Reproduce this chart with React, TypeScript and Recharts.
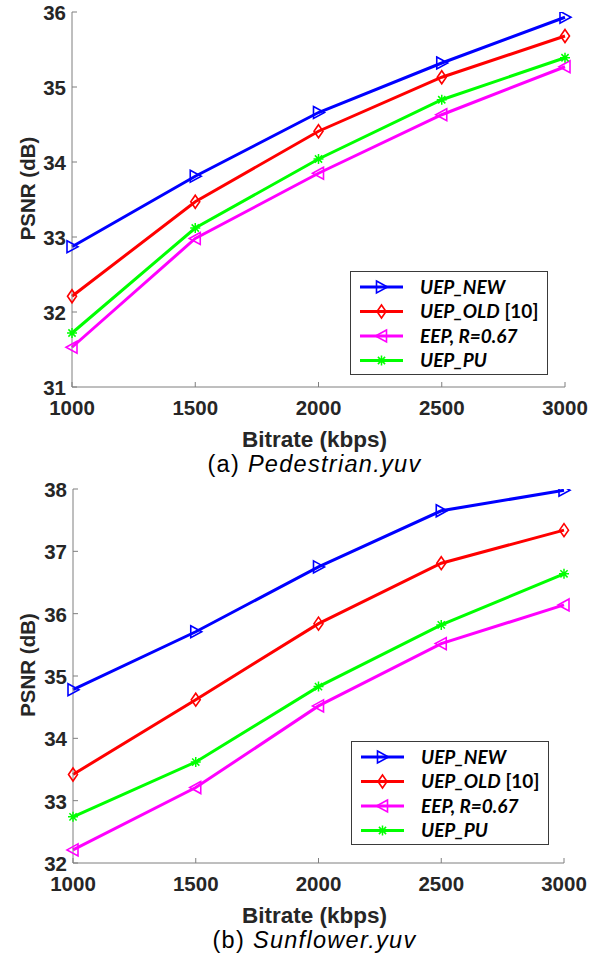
import React from 'react';
import { LineChart, Line, XAxis, YAxis, Legend } from 'recharts';

// ---------- data ----------
const bitrates = [1000, 1500, 2000, 2500, 3000];
const xTicks = [1000, 1500, 2000, 2500, 3000];

const pedNew = [32.87, 33.81, 34.66, 35.32, 35.93];
const pedOld = [32.21, 33.47, 34.41, 35.13, 35.68];
const pedEep = [31.53, 32.98, 33.85, 34.63, 35.27];
const pedPu = [31.72, 33.12, 34.04, 34.83, 35.39];
const pedYTicks = [31, 32, 33, 34, 35, 36];

const sunNew = [34.78, 35.71, 36.75, 37.65, 37.98];
const sunOld = [33.42, 34.62, 35.84, 36.81, 37.34];
const sunEep = [32.21, 33.21, 34.52, 35.52, 36.14];
const sunPu = [32.74, 33.62, 34.83, 35.82, 36.64];
const sunYTicks = [32, 33, 34, 35, 36, 37, 38];

const seriesKeys = ['uepNew', 'uepOld', 'eep', 'uepPu'];
const seriesNames = ['UEP_NEW', 'UEP_OLD', 'EEP, R=0.67', 'UEP_PU'];
const seriesColors = ['#0000ff', '#ff0000', '#ff00ff', '#00ff00'];
const seriesShapes = ['right', 'diamond', 'left', 'star'];

const captionA = ['(a) ', 'Pedestrian.yuv'];
const captionB = ['(b) ', 'Sunflower.yuv'];

const buildRows = (a: number[], b: number[], c: number[], d: number[]) =>
  bitrates.map((x, i) => ({ x, uepNew: a[i], uepOld: b[i], eep: c[i], uepPu: d[i] }));

const pedRows = buildRows(pedNew, pedOld, pedEep, pedPu);
const sunRows = buildRows(sunNew, sunOld, sunEep, sunPu);

// ---------- styles ----------
const FONT = '"Liberation Sans", Arial, Helvetica, sans-serif';
const AXIS = '#7f7f7f';
const TEXT = '#262626';
const TICK_LEN = 5;

function Marker({ shape, cx, cy, color }: any) {
  const sw = 1.6;
  if (shape === 'right')
    return <polygon points={`${cx - 5},${cy - 6} ${cx + 6},${cy} ${cx - 5},${cy + 6}`} fill="none" stroke={color} strokeWidth={sw} />;
  if (shape === 'left')
    return <polygon points={`${cx + 5},${cy - 6} ${cx - 6},${cy} ${cx + 5},${cy + 6}`} fill="none" stroke={color} strokeWidth={sw} />;
  if (shape === 'diamond')
    return <polygon points={`${cx},${cy - 6.5} ${cx + 4.5},${cy} ${cx},${cy + 6.5} ${cx - 4.5},${cy}`} fill="none" stroke={color} strokeWidth={sw} />;
  return (
    <path
      d={`M${cx - 5},${cy}H${cx + 5}M${cx},${cy - 5}V${cy + 5}M${cx - 3.6},${cy - 3.6}L${cx + 3.6},${cy + 3.6}M${cx - 3.6},${cy + 3.6}L${cx + 3.6},${cy - 3.6}`}
      stroke={color}
      strokeWidth={1.5}
      fill="none"
    />
  );
}

const makeDot = (shape: string, color: string) => (p: any) => (
  <g key={`d-${shape}-${p.index}`}>
    <Marker shape={shape} cx={p.cx} cy={p.cy} color={color} />
  </g>
);

const BottomTick = (props: any) => {
  const { x, y, payload } = props;
  return (
    <g>
      <line x1={x} x2={x} y1={y} y2={y - TICK_LEN} stroke={AXIS} />
      <text x={x} y={y + 28} textAnchor="middle" fill={TEXT} fontFamily={FONT} fontWeight="bold" fontSize={20.5}>
        {payload.value}
      </text>
    </g>
  );
};

const TopTick = (props: any) => {
  const { x, y } = props;
  return <line x1={x} x2={x} y1={y} y2={y + TICK_LEN} stroke={AXIS} />;
};

const LeftTick = (props: any) => {
  const { x, y, payload } = props;
  return (
    <g>
      <line x1={x} x2={x + TICK_LEN} y1={y} y2={y} stroke={AXIS} />
      <text x={x - 6} y={y + 8} textAnchor="end" fill={TEXT} fontFamily={FONT} fontWeight="bold" fontSize={20.5}>
        {payload.value}
      </text>
    </g>
  );
};

const RightTick = (props: any) => {
  const { x, y } = props;
  return <line x1={x} x2={x - TICK_LEN} y1={y} y2={y} stroke={AXIS} />;
};

const XTitle = ({ viewBox, caption }: any) => {
  const { x, y, width } = viewBox || {};
  const cx = x + width / 2 - 4;
  return (
    <g>
      <text x={cx} y={y + 60} textAnchor="middle" fill={TEXT} fontFamily={FONT} fontWeight="bold" fontSize={22.5}>
        Bitrate (kbps)
      </text>
      <text x={cx} y={y + 85} textAnchor="middle" fill="#000" fontFamily={FONT} fontSize={23.5} letterSpacing={1.3}>
        <tspan>{caption[0]}</tspan>
        <tspan fontStyle="italic">{caption[1]}</tspan>
      </text>
    </g>
  );
};

const YTitle = ({ viewBox }: any) => {
  const { y, height } = viewBox || {};
  const cy = y + height / 2 - 11;
  return (
    <text
      x={27}
      y={cy}
      transform={`rotate(-90, 27, ${cy})`}
      textAnchor="middle"
      dominantBaseline="central"
      fill={TEXT}
      fontFamily={FONT}
      fontWeight="bold"
      fontSize={20.5}
    >
      PSNR (dB)
    </text>
  );
};

const LegendBox = () => {
  const w = 198;
  const h = 104;
  return (
    <svg width={w} height={h} style={{ display: 'block' }}>
      <rect x={0.5} y={0.5} width={w - 1} height={h - 1} fill="#fff" stroke="#3a3a3a" strokeWidth={1} />
      {seriesKeys.map((k, i) => {
        const yy = 16 + i * 24.5;
        return (
          <g key={k}>
            <line x1={10} x2={53} y1={yy} y2={yy} stroke={seriesColors[i]} strokeWidth={3} />
            <Marker shape={seriesShapes[i]} cx={31.5} cy={yy} color={seriesColors[i]} />
            <text x={70} y={yy + 6.5} fill="#000" fontFamily="Lato, 'Open Sans', sans-serif" fontWeight="bold" fontSize={19}>
              <tspan fontStyle="italic">{seriesNames[i]}</tspan>
              {i === 1 ? <tspan fontStyle="normal"> [10]</tspan> : null}
            </text>
          </g>
        );
      })}
    </svg>
  );
};

function Panel({ rows, yTicks, top, height, marginTop, marginRight, yWidth, xHeight, caption, legendTop, legendLeft }: any) {
  const dom = [yTicks[0], yTicks[yTicks.length - 1]];
  return (
    <div style={{ position: 'absolute', left: 0, top, width: 600, height }}>
      <LineChart width={600} height={height} data={rows} margin={{ top: marginTop, right: marginRight, bottom: 0, left: 0 }}>
        <XAxis
          dataKey="x"
          type="number"
          domain={[1000, 3000]}
          ticks={xTicks}
          height={xHeight}
          tickSize={0}
          tickMargin={0}
          tickLine={false}
          axisLine={{ stroke: AXIS }}
          tick={<BottomTick />}
          interval={0}
          label={<XTitle caption={caption} />}
        />
        <XAxis
          xAxisId="top"
          orientation="top"
          dataKey="x"
          type="number"
          domain={[1000, 3000]}
          ticks={xTicks}
          height={0}
          tickSize={0}
          tickMargin={0}
          tickLine={false}
          axisLine={{ stroke: AXIS }}
          tick={<TopTick />}
          interval={0}
        />
        <YAxis
          type="number"
          domain={dom}
          ticks={yTicks}
          width={yWidth}
          tickSize={0}
          tickMargin={0}
          tickLine={false}
          axisLine={{ stroke: AXIS }}
          tick={<LeftTick />}
          interval={0}
          allowDataOverflow
          label={<YTitle />}
        />
        <YAxis
          yAxisId="right"
          orientation="right"
          type="number"
          domain={dom}
          ticks={yTicks}
          width={0}
          tickSize={0}
          tickMargin={0}
          tickLine={false}
          axisLine={{ stroke: AXIS }}
          tick={<RightTick />}
          interval={0}
          allowDataOverflow
        />
        {seriesKeys.map((k, i) => (
          <Line
            key={k}
            dataKey={k}
            name={seriesNames[i]}
            stroke={seriesColors[i]}
            strokeWidth={3}
            dot={makeDot(seriesShapes[i], seriesColors[i])}
            activeDot={false}
            isAnimationActive={false}
          />
        ))}
        <Legend
          layout="vertical"
          align="center"
          verticalAlign="middle"
          content={<LegendBox />}
          wrapperStyle={{ left: legendLeft, top: legendTop, width: 198, height: 104, margin: 0 }}
        />
      </LineChart>
    </div>
  );
}

export default function App() {
  return (
    <div style={{ position: 'absolute', left: 0, top: 0, width: 600, height: 956, background: '#fff' }}>
      <Panel rows={sunRows} yTicks={sunYTicks} top={475} height={481} marginTop={14} marginRight={36} yWidth={73} xHeight={93} caption={captionB} legendTop={266} legendLeft={351} />
      <Panel rows={pedRows} yTicks={pedYTicks} top={0} height={485} marginTop={12} marginRight={35} yWidth={72} xHeight={98} caption={captionA} legendTop={271} legendLeft={350} />
    </div>
  );
}
